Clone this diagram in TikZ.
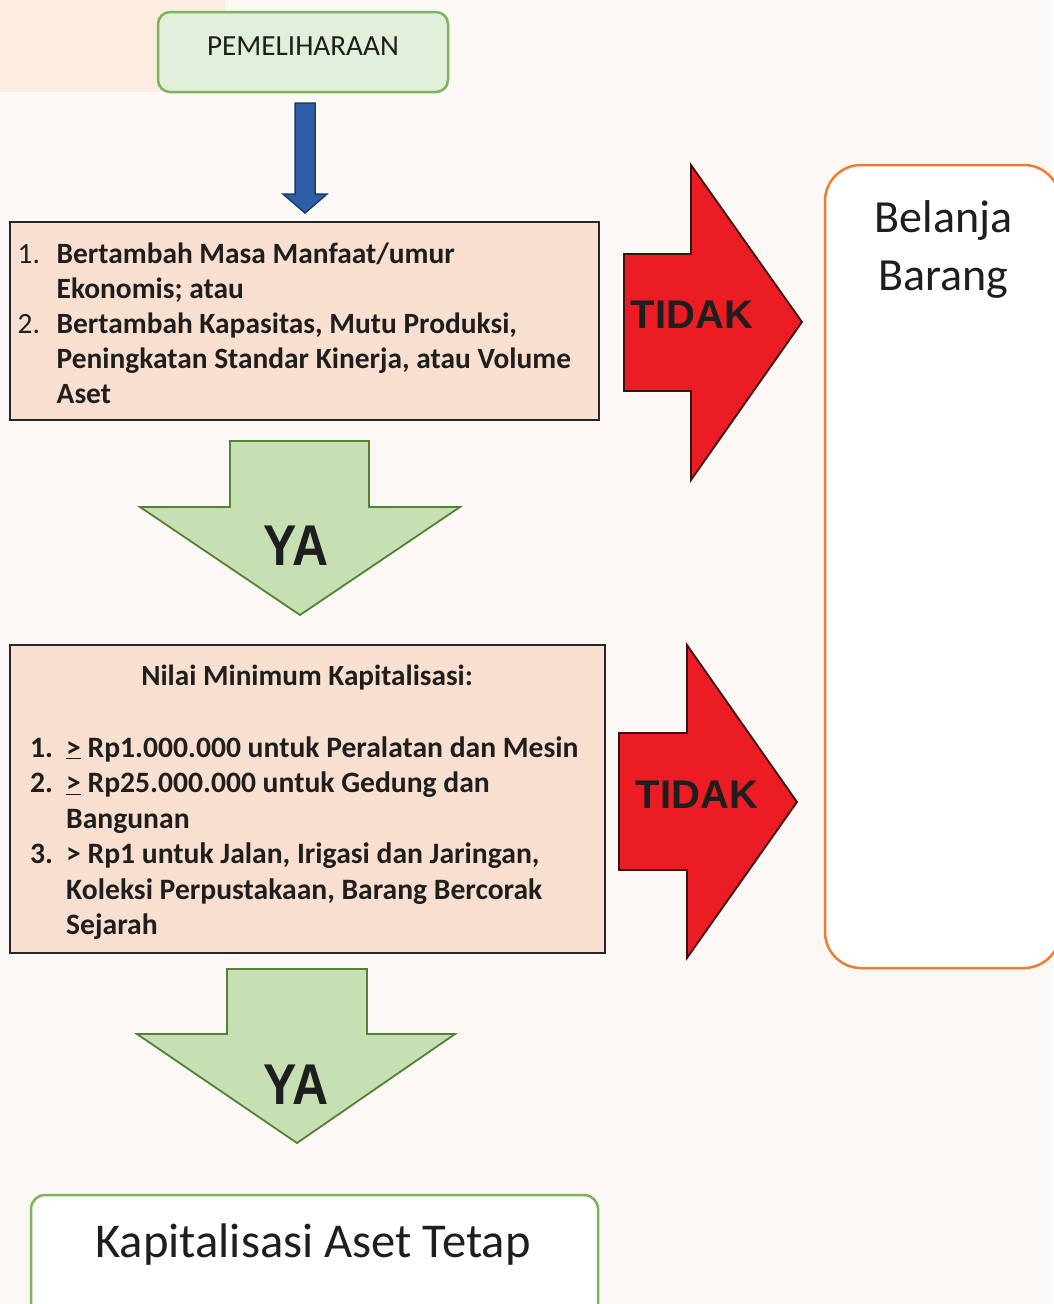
\documentclass[tikz,border=0pt]{standalone}
\usepackage{fontspec}
\usepackage{graphicx}
\usepackage{array}
\setmainfont{Carlito}
\newfontfamily\arialfont{Liberation Sans}
\definecolor{bgc}{HTML}{FBF8F5}
\definecolor{peachbg}{HTML}{FCEDE0}
\definecolor{pemfill}{HTML}{E2EFDA}
\definecolor{pemline}{HTML}{7CB45B}
\definecolor{boxfill}{HTML}{F9DFCF}
\definecolor{bluefill}{HTML}{2E5EAA}
\definecolor{blueline}{HTML}{1F3A68}
\definecolor{gfill}{HTML}{C6E0B4}
\definecolor{gline}{HTML}{548235}
\definecolor{rfill}{HTML}{EC1C24}
\definecolor{rline}{HTML}{3A1212}
\definecolor{oline}{HTML}{ED7D31}
\definecolor{txt}{HTML}{1E1E1E}
\tikzset{
  pembox/.style={draw=pemline, fill=pemfill, line width=2.5pt, rounded corners=12pt, inner sep=0pt},
  peachbox/.style={draw=black!85, fill=boxfill, line width=2pt, inner sep=0pt},
  endbox/.style={draw=pemline, fill=white, line width=2.5pt, rounded corners=14pt},
  belbox/.style={draw=oline, fill=white, line width=2.5pt, rounded corners=36pt},
  bluearrow/.style={fill=bluefill, draw=blueline, line width=1.5pt, line join=miter},
  greenarrow/.style={fill=gfill, draw=gline, line width=1.8pt, line join=miter},
  redarrow/.style={fill=rfill, draw=rline, line width=1.8pt, line join=miter},
  listtext/.style={anchor=base west, inner sep=0pt, text=txt},
  yatext/.style={text=txt, inner sep=0pt, font=\arialfont\bfseries\fontsize{50}{50}\selectfont},
  tidaktext/.style={text=txt, inner sep=0pt, font=\arialfont\bfseries\fontsize{40}{40}\selectfont},
}
\begin{document}
\begin{tikzpicture}[x=1pt,y=-1pt]
\useasboundingbox (0,0) rectangle (1053,1304);
\fill[bgc] (0,0) rectangle (1053,1304);
\fill[peachbg] (0,0) rectangle (225,92);

% PEMELIHARAAN
\draw[pembox] (158,12) rectangle (448,92);
\node (pem) [anchor=base, inner sep=0pt, text=txt, font=\fontsize{29.2}{34}\selectfont] at (303,55) {PEMELIHARAAN};

% blue arrow
\draw[bluearrow] (295,103) -- (315,103) -- (315,194) -- (327,194) -- (305,213) -- (283,194) -- (295,194) -- cycle;

% box 1
\draw[peachbox] (10,222) rectangle (599,420);
\node (t1) [listtext, font=\fontsize{29.4}{35}\selectfont] at (17.5,263) {\begin{tabular}[t]{@{}p{39pt}@{}l@{}}
1. & \textbf{Bertambah Masa Manfaat/umur}\\
   & \textbf{Ekonomis; atau}\\
2. & \textbf{Bertambah Kapasitas, Mutu Produksi,}\\
   & \textbf{Peningkatan Standar Kinerja, atau Volume}\\
   & \textbf{Aset}
\end{tabular}};

% green arrow 1
\draw[greenarrow] (230,441) -- (369,441) -- (369,507) -- (460,507) -- (300,615) -- (140,507) -- (230,507) -- cycle;
\node (ya1) [yatext] at (296,546) {\scalebox{1}[1.15]{YA}};

% red arrow 1
\draw[redarrow] (624,254) -- (691,254) -- (691,165) -- (802,322) -- (691,480) -- (691,391) -- (624,391) -- cycle;
\node (tidak1) [tidaktext] at (692,315) {TIDAK};

% box 2
\draw[peachbox] (10,645) rectangle (605,953);
\node (t2h) [anchor=base, inner sep=0pt, text=txt, font=\bfseries\fontsize{29.2}{35}\selectfont] at (307,685) {Nilai Minimum Kapitalisasi:};
\node (t2) [listtext, font=\bfseries\fontsize{29.6}{35.5}\selectfont] at (30,757) {\begin{tabular}[t]{@{}p{36pt}@{}l@{}}
1. & \underline{>} Rp1.000.000 untuk Peralatan dan Mesin\\
2. & \underline{>} Rp25.000.000 untuk Gedung dan\\
   & Bangunan\\
3. & > Rp1 untuk Jalan, Irigasi dan Jaringan,\\
   & Koleksi Perpustakaan, Barang Bercorak\\
   & Sejarah
\end{tabular}};

% green arrow 2
\draw[greenarrow] (227,969) -- (367,969) -- (367,1034) -- (455,1034) -- (297,1143) -- (137,1034) -- (227,1034) -- cycle;
\node (ya2) [yatext] at (296,1085) {\scalebox{1}[1.15]{YA}};

% red arrow 2
\draw[redarrow] (619,733) -- (687,733) -- (687,645) -- (797,802) -- (687,958) -- (687,870) -- (619,870) -- cycle;
\node (tidak2) [tidaktext] at (697,795) {TIDAK};

% Belanja Barang
\draw[belbox] (825,165) rectangle (1060,968);
\node (bel) [anchor=base, inner sep=0pt, text=txt, font=\fontsize{46}{58}\selectfont] at (943.5,232) {\begin{tabular}[t]{@{}c@{}}Belanja\\Barang\end{tabular}};

% Kapitalisasi Aset Tetap
\draw[endbox] (31,1195) rectangle (598,1325);
\node (kap) [anchor=base, inner sep=0pt, text=txt, font=\fontsize{48.6}{52}\selectfont] at (313,1257) {Kapitalisasi Aset Tetap};
\end{tikzpicture}
\end{document}
